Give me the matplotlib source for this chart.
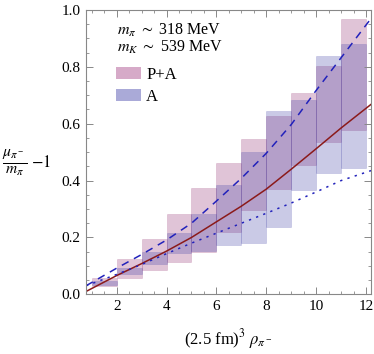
import matplotlib
matplotlib.use('Agg')
import matplotlib.pyplot as plt
from matplotlib.patches import Patch
from matplotlib.ticker import MultipleLocator

# density bins (left edges, width 1)
bin_left = [1, 2, 3, 4, 5, 6, 7, 8, 9, 10, 11]
pa_low = [0.029, 0.056, 0.084, 0.115, 0.150, 0.220, 0.297, 0.369, 0.455, 0.537, 0.578]
pa_high = [0.056, 0.123, 0.195, 0.281, 0.374, 0.463, 0.545, 0.628, 0.709, 0.804, 0.968]
a_low = [0.033, 0.071, 0.108, 0.144, 0.152, 0.172, 0.182, 0.235, 0.367, 0.428, 0.443]
a_high = [0.047, 0.091, 0.148, 0.216, 0.282, 0.384, 0.499, 0.643, 0.683, 0.838, 0.879]

# curves
x_curve = [0.77, 2, 3, 4, 5, 6, 7, 8, 9, 10, 11, 12.2]
solid_red = [0.010, 0.066, 0.108, 0.152, 0.200, 0.255, 0.310, 0.370, 0.440, 0.512, 0.585, 0.668]
dashed_blue = [0.030, 0.092, 0.140, 0.191, 0.250, 0.328, 0.408, 0.496, 0.597, 0.717, 0.832, 0.970]
dotted_blue = [0.030, 0.070, 0.105, 0.143, 0.180, 0.215, 0.250, 0.285, 0.321, 0.360, 0.400, 0.435]

plt.rcParams['font.family'] = ['Liberation Serif', 'DejaVu Serif']
plt.rcParams['mathtext.fontset'] = 'stix'

pink = (0.57, 0.18, 0.44)
blue = (0.26, 0.26, 0.65)

fig = plt.figure(figsize=(3.74, 3.54), dpi=100)
ax = fig.add_axes([0.23, 0.1686, 0.762, 0.8032])

pa_h = [h - l for l, h in zip(pa_low, pa_high)]
a_h = [h - l for l, h in zip(a_low, a_high)]
ax.bar(bin_left, pa_h, bottom=pa_low, width=1, align='edge',
       color=pink, alpha=0.28, edgecolor=pink, linewidth=0.4)
ax.bar(bin_left, a_h, bottom=a_low, width=1, align='edge',
       color=blue, alpha=0.28, edgecolor=blue, linewidth=0.4)

ax.plot(x_curve, solid_red, color='#8b1a1a', lw=1.1)
ax.plot(x_curve, dashed_blue, color='#2222bb', lw=1.1, dashes=(5, 4))
ax.plot(x_curve, dotted_blue, color='#2222bb', lw=1.1, dashes=(1.5, 3.5))

ax.set_xlim(0.77, 12.2)
ax.set_ylim(0, 1)
ax.xaxis.set_major_locator(MultipleLocator(2))
ax.xaxis.set_minor_locator(MultipleLocator(0.5))
ax.yaxis.set_major_locator(MultipleLocator(0.2))
ax.yaxis.set_minor_locator(MultipleLocator(0.05))
ax.yaxis.set_major_formatter(matplotlib.ticker.FormatStrFormatter('%.1f'))
ax.tick_params(which='both', direction='in', top=True, right=True,
               color='#888888', labelsize=11, pad=4)
ax.tick_params(which='major', length=5, width=0.7)
ax.tick_params(which='minor', length=2.5, width=0.6)
for s in ax.spines.values():
    s.set_color('#888888')
    s.set_linewidth(0.8)

ax.set_xlabel(r'(2.5 fm)$^3$ $\rho_{\pi^-}$', fontsize=12, labelpad=10)
# y label: fraction drawn bigger, "-1" at normal size
fig.text(0.005, 0.539, r'$\frac{\mu_{\pi^-}}{m_\pi}$', fontsize=16,
         ha='left', va='center')
fig.text(0.083, 0.539, r'$-1$', fontsize=12, ha='left', va='center')

ax.text(0.108, 0.912, r'$m_\pi\ \sim$ 318 MeV', transform=ax.transAxes, fontsize=11.5)
ax.text(0.108, 0.852, r'$m_K\ \sim$ 539 MeV', transform=ax.transAxes, fontsize=11.5)
handles = [Patch(facecolor='#d6aac8', edgecolor='none', label='P+A'),
           Patch(facecolor='#aaaad8', edgecolor='none', label='A')]
ax.legend(handles=handles, loc='upper left', bbox_to_anchor=(0.065, 0.84),
          frameon=False, fontsize=12, handlelength=1.5, handleheight=0.75,
          handletextpad=0.3, labelspacing=0.35, borderpad=0.2)

fig.savefig('out.png', dpi=100)
